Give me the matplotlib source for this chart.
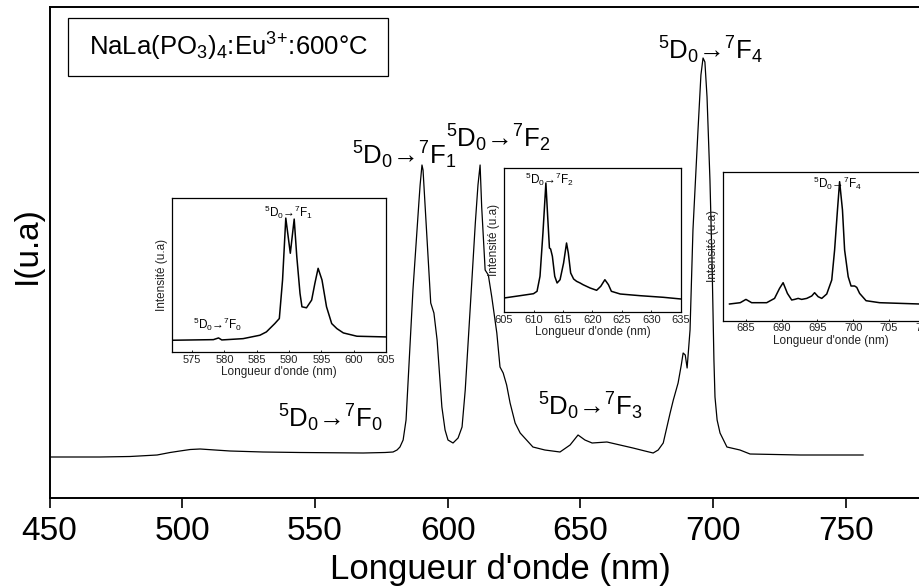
import numpy as np
import matplotlib.pyplot as plt
from matplotlib.patches import Rectangle

plt.rcParams['font.family'] = ['Liberation Sans', 'DejaVu Sans']
plt.rcParams['mathtext.fontset'] = 'custom'
plt.rcParams['mathtext.rm'] = 'Liberation Sans'
plt.rcParams['mathtext.it'] = 'Liberation Sans:italic'
plt.rcParams['mathtext.bf'] = 'Liberation Sans:bold'

W, H = 920, 588

# Main emission spectrum (a.u.)
wl = [450.2, 469.0, 480.3, 490.5, 495.4, 499.1, 503.0, 506.7, 512.3, 518.0,
      530.4, 544.3, 568.1, 576.4, 579.4, 580.9, 582.0, 583.2, 584.3, 585.1,
      586.9, 589.2, 589.6, 590.3, 590.7, 593.6, 594.8, 596.0, 597.8, 599.0,
      600.1, 602.0, 603.9, 605.4, 606.6, 608.5, 610.4, 611.4, 612.2, 612.8,
      614.1, 615.3, 616.6, 618.5, 619.7, 620.9, 622.2, 623.5, 625.4, 627.3,
      632.1, 636.6, 642.3, 646.1, 649.1, 651.7, 654.4, 660.0, 664.9, 669.8,
      674.3, 677.4, 679.3, 681.2, 683.8, 685.0, 686.8, 688.0, 688.7, 689.5,
      690.2, 691.3, 692.4, 694.3, 695.4, 696.2, 696.9, 697.7, 698.8, 699.6,
      700.3, 700.7, 701.5, 702.6, 705.2, 710.1, 713.9, 732.8, 756.5]
inten = [41, 41, 41.5, 43, 45.5, 47, 48.5, 49, 48, 47,
         46, 45.5, 45, 45.5, 46, 48, 51, 58, 78, 118,
         208, 298, 313, 333, 328, 195, 185, 158, 91, 68,
         58, 55, 60, 71, 108, 191, 275, 313, 333, 291,
         228, 223, 201, 165, 131, 125, 113, 95, 75, 65,
         51, 48, 46, 53, 63, 58, 55, 56, 53, 50,
         47, 45, 48, 55, 85, 98, 115, 133, 145, 143,
         130, 168, 268, 368, 423, 440, 436, 401, 318, 235,
         138, 101, 78, 65, 51, 48, 44, 43, 43]

# Inset 1: 5D0 -> 7F0 / 7F1 region
wl1 = [571.9, 578.3, 579.1, 579.6, 582.9, 585.5, 586.5, 587.8, 588.5, 589.0,
       589.5, 590.2, 590.8, 591.2, 591.7, 592.0, 592.7, 593.5, 594.0, 594.5,
       595.1, 595.8, 596.6, 597.4, 598.4, 600.5, 605.0]
int1 = [11.7, 12.3, 14.0, 12.0, 13.3, 16.7, 20.0, 28.3, 33.3, 71.7,
        133.3, 98.3, 132.3, 95.0, 58.3, 45.0, 44.0, 51.7, 68.3, 83.3,
        71.7, 45.0, 28.3, 23.3, 19.0, 15.7, 15.0]

# Inset 2: 5D0 -> 7F2 region
wl2 = [605.0, 607.7, 610.0, 610.6, 611.1, 611.6, 612.1, 612.4, 612.7, 612.9,
       613.2, 613.6, 614.0, 614.5, 615.1, 615.6, 615.9, 616.3, 616.8, 617.3,
       617.9, 618.4, 619.6, 620.7, 621.4, 622.1, 622.7, 623.2, 624.7, 628.1,
       632.0, 635.0]
int2 = [14.0, 16.3, 18.3, 20.7, 35.7, 79.0, 129.0, 95.7, 64.0, 63.0,
        55.7, 35.7, 29.0, 32.3, 49.0, 69.0, 59.0, 39.0, 33.0, 30.7,
        29.0, 27.3, 24.0, 21.7, 25.7, 32.3, 27.3, 20.7, 18.0, 16.3,
        14.7, 13.0]

# Inset 3: 5D0 -> 7F4 region
wl3 = [682.7, 684.2, 685.0, 685.8, 687.9, 689.0, 689.7, 690.2, 690.8, 691.4,
       691.8, 692.3, 692.8, 693.5, 694.2, 694.6, 695.1, 695.6, 696.3, 697.0,
       697.4, 697.8, 698.1, 698.5, 698.8, 699.3, 699.7, 700.2, 700.5, 700.9,
       701.8, 703.7, 709.3]
int3 = [16.7, 18.0, 21.3, 18.0, 18.0, 22.3, 32.3, 38.0, 27.3, 20.7,
        21.3, 22.3, 21.3, 22.3, 24.7, 28.0, 24.0, 22.3, 26.7, 40.7,
        70.7, 110.7, 139.0, 110.7, 70.7, 44.0, 34.7, 34.7, 33.3, 27.3,
        20.0, 18.0, 16.7]

main_ticks = [450, 500, 550, 600, 650, 700, 750]
ticks1 = [575, 580, 585, 590, 595, 600, 605]
ticks2 = [605, 610, 615, 620, 625, 630, 635]
ticks3 = [685, 690, 695, 700, 705, 710]


def box(x0, y0, x1, y1):
    """pixel box (top-left origin) -> figure fraction rect"""
    return [x0 / W, 1 - y1 / H, (x1 - x0) / W, (y1 - y0) / H]


def lab(final):
    return r'$^{5}$D$_{0}$→$^{7}$F$_{%s}$' % final


fig = plt.figure(figsize=(W / 100, H / 100), dpi=100)

# main axes runs past the right edge of the figure, like the cropped original
ax = fig.add_axes(box(49.6, 7, 49.6 + 902.4, 498))
ax.plot(wl, inten, color='black', lw=0.9)
ax.set_xlim(450, 790)
ax.set_ylim(0, 491)
ax.set_xticks(main_ticks)
ax.set_yticks([])
ax.tick_params(axis='x', direction='out', length=7, width=1.2, labelsize=24, pad=6)
for s in ax.spines.values():
    s.set_linewidth(1.4)
ax.set_xlabel("Longueur d'onde (nm)", fontsize=25, labelpad=4)
ax.set_ylabel('I(u.a)', fontsize=24)
ax.yaxis.set_label_coords(-0.007, 0.515)

fs = 18.5
fig.text(330 / W, 1 - 418 / H, lab('0'), fontsize=fs, ha='center', va='center')
fig.text(404 / W, 1 - 155 / H, lab('1'), fontsize=fs, ha='center', va='center')
fig.text(498 / W, 1 - 138 / H, lab('2'), fontsize=fs, ha='center', va='center')
fig.text(590 / W, 1 - 406 / H, lab('3'), fontsize=fs, ha='center', va='center')
fig.text(710 / W, 1 - 50 / H, lab('4'), fontsize=fs, ha='center', va='center')

# sample label box
fig.patches.append(Rectangle((68 / W, 1 - 76 / H), 320 / W, 58 / H, transform=fig.transFigure,
                             fill=False, edgecolor='black', lw=0.9))
fig.text(228 / W, 1 - 47 / H, r'NaLa(PO$_3$)$_4$:Eu$^{3}$$^{+}$:600°C', fontsize=18.5,
         ha='center', va='center')


def inset(rect, x, y, xlim, ylim, ticks):
    a = fig.add_axes(rect)
    a.plot(x, y, color='black', lw=1.1)
    a.set_xlim(*xlim)
    a.set_ylim(*ylim)
    a.set_xticks(ticks)
    a.set_yticks([])
    a.tick_params(axis='x', direction='in', length=1.5, width=0.6, labelsize=8, pad=2,
                  labelcolor='#222222')
    for s in a.spines.values():
        s.set_linewidth(0.9)
    a.set_xlabel("Longueur d'onde (nm)", fontsize=8.5, labelpad=1, color='#222222')
    a.set_ylabel('Intensité (u.a)', fontsize=8.5, labelpad=3, color='#222222')
    return a


ins1 = inset(box(172, 198, 386, 352), wl1, int1, (571.9, 605), (0, 153.3), ticks1)
ins2 = inset(box(504, 168, 681, 312), wl2, int2, (605, 635), (0, 144), ticks2)
ins3 = inset(box(722.7, 171.7, 939, 320.7), wl3, int3, (681.75, 712), (0, 149), ticks3)

sfs = 8.5
fig.text(288 / W, 1 - 212 / H, lab('1'), fontsize=sfs, ha='center', va='center')
fig.text(218 / W, 1 - 324 / H, lab('0'), fontsize=sfs, ha='center', va='center')
fig.text(549 / W, 1 - 179 / H, lab('2'), fontsize=sfs, ha='center', va='center')
fig.text(838 / W, 1 - 183 / H, lab('4'), fontsize=sfs, ha='center', va='center')

fig.savefig('out.png', dpi=100)
